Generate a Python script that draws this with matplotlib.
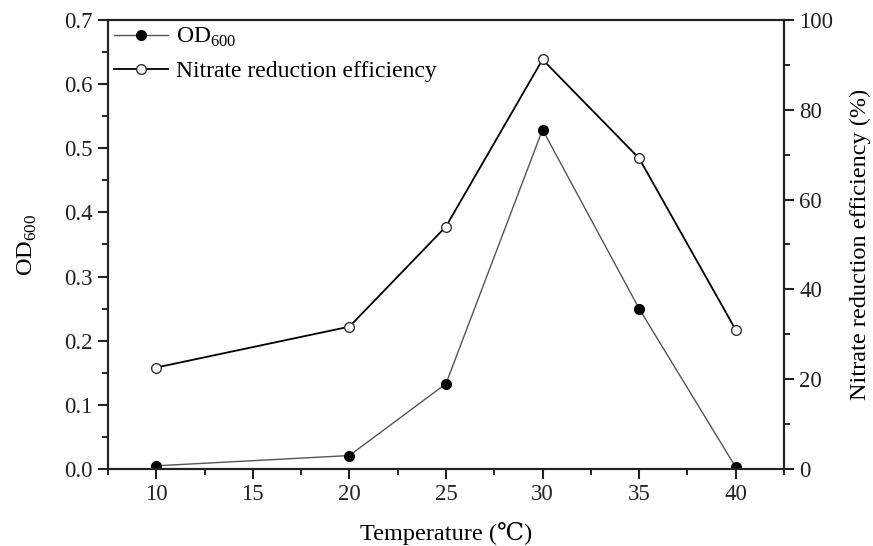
import numpy as np
import matplotlib
matplotlib.use("Agg")
import matplotlib.pyplot as plt
from matplotlib.ticker import MultipleLocator

plt.rcParams["font.family"] = ["Liberation Serif", "DejaVu Serif"]
plt.rcParams["mathtext.fontset"] = "custom"
plt.rcParams["mathtext.rm"] = "Liberation Serif"

# data
temperature = [10, 20, 25, 30, 35, 40]
od600 = [0.005, 0.021, 0.133, 0.529, 0.250, 0.003]
nitrate_eff = [22.6, 31.7, 54.0, 91.2, 69.2, 31.0]

fig = plt.figure(figsize=(8.73, 5.46), dpi=100)
ax = fig.add_axes([0.1237, 0.141, 0.7743, 0.8224])
ax2 = ax.twinx()

l1, = ax.plot(temperature, od600, color="#555555", lw=1.0, marker="o",
              markersize=7, markerfacecolor="black", markeredgecolor="black",
              label=r"OD$_{\mathregular{600}}$", zorder=3)
l2, = ax2.plot(temperature, nitrate_eff, color="black", lw=1.3, marker="o",
               markersize=7, markerfacecolor="white", markeredgecolor="#333333",
               markeredgewidth=1.0, label="Nitrate reduction efficiency", zorder=3)

ax.set_xlim(7.5, 42.5)
ax.set_ylim(0, 0.7)
ax2.set_ylim(0, 100)

ax.xaxis.set_major_locator(MultipleLocator(5))
ax.xaxis.set_minor_locator(MultipleLocator(2.5))
ax.yaxis.set_major_locator(MultipleLocator(0.1))
ax.yaxis.set_minor_locator(MultipleLocator(0.05))
ax2.yaxis.set_major_locator(MultipleLocator(20))
ax2.yaxis.set_minor_locator(MultipleLocator(10))
ax.yaxis.set_major_formatter(plt.FormatStrFormatter("%.1f"))

for a in (ax, ax2):
    a.tick_params(which="major", direction="out", length=7, width=1.5,
                  labelsize=16.5, colors="#222222", pad=4)
    a.tick_params(which="minor", direction="out", length=4.5, width=1.2)
    for s in a.spines.values():
        s.set_linewidth(1.5)
        s.set_color("#222222")
ax.tick_params(axis="x", which="both", top=False)

ax.set_xlabel("Temperature (\u2103)", fontsize=17.5, labelpad=12)
ax.set_ylabel(r"OD$_{\mathregular{600}}$", fontsize=17.5, labelpad=18)
ax2.set_ylabel("Nitrate reduction efficiency (%)", fontsize=17.5, labelpad=12)

ax.legend([l1, l2], [l1.get_label(), l2.get_label()], loc="upper left",
          frameon=False, fontsize=17, handlelength=2.3, handletextpad=0.35,
          borderaxespad=0.05, borderpad=0.2, labelspacing=0.5)

fig.savefig("out.png", dpi=100)
